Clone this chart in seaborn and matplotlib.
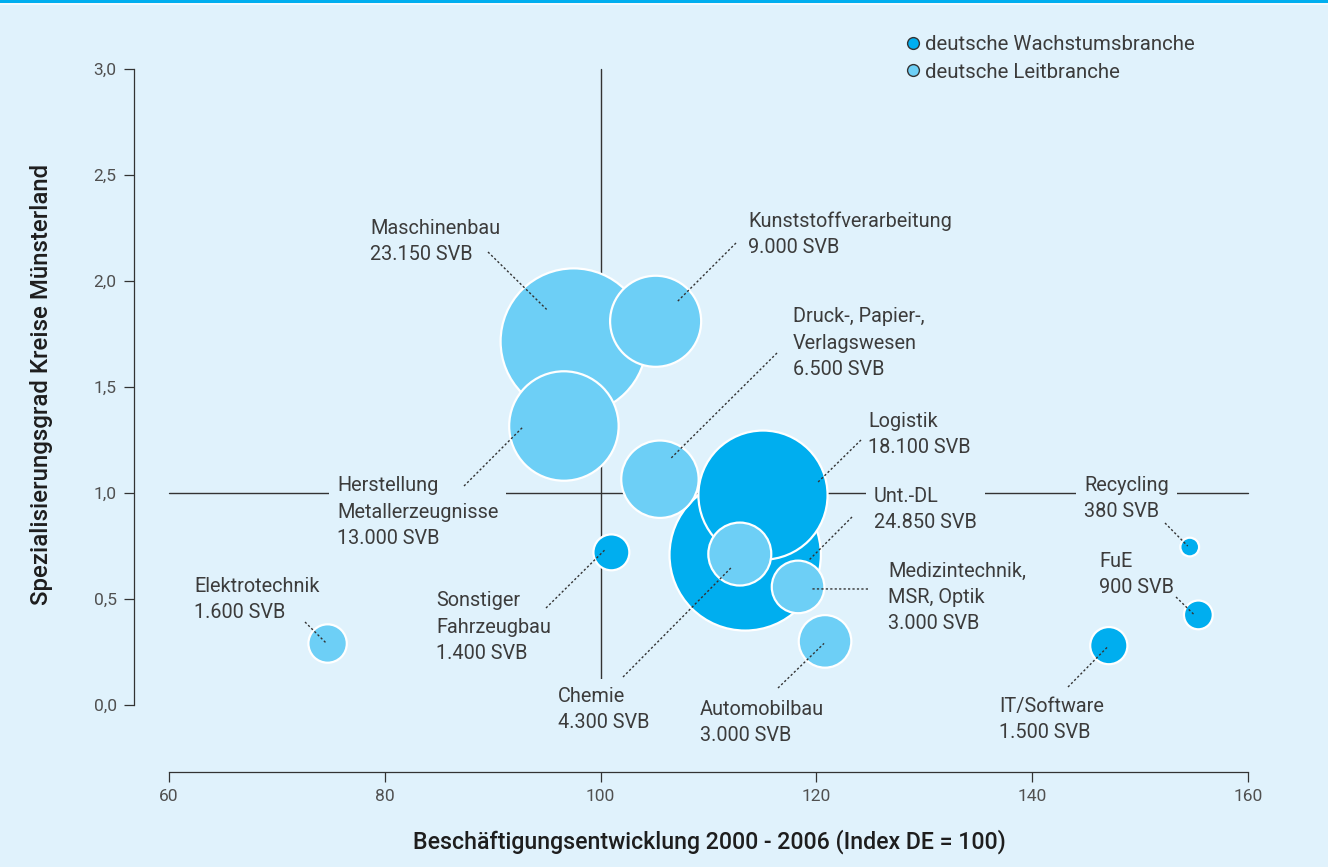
import numpy as np
import pandas as pd
import seaborn as sns
import matplotlib
matplotlib.use("Agg")
import matplotlib.pyplot as plt
from matplotlib.lines import Line2D
from matplotlib.patches import Rectangle

# ---------------- data ----------------
names = ["Maschinenbau", "Kunststoffverarbeitung", "Herstellung Metallerzeugnisse",
         "Unt.-DL", "Logistik", "Druck-, Papier-, Verlagswesen", "Chemie",
         "Medizintechnik, MSR, Optik", "Automobilbau", "Sonstiger Fahrzeugbau",
         "Elektrotechnik", "Recycling", "FuE", "IT/Software"]
beschaeftigung = [97.5, 105.1, 96.6, 113.4, 115.05, 105.5, 112.9,
                  118.3, 120.8, 101.0, 74.7, 154.6, 155.4, 147.1]
spezialisierung = [1.715, 1.81, 1.316, 0.708, 0.99, 1.065, 0.712,
                   0.557, 0.30, 0.72, 0.29, 0.745, 0.425, 0.28]
svb = [23150, 9000, 13000, 24850, 18100, 6500, 4300,
       3000, 3000, 1400, 1600, 380, 900, 1500]
typ = ["Leit", "Leit", "Leit", "Wachstum", "Wachstum", "Leit", "Leit",
       "Leit", "Leit", "Wachstum", "Leit", "Wachstum", "Wachstum", "Wachstum"]
label_texts = ["Maschinenbau\n23.150 SVB", "Kunststoffverarbeitung\n9.000 SVB",
               "Herstellung\nMetallerzeugnisse\n13.000 SVB", "Unt.-DL\n24.850 SVB",
               "Logistik\n18.100 SVB", "Druck-, Papier-,\nVerlagswesen\n6.500 SVB",
               "Chemie\n4.300 SVB", "Medizintechnik,\nMSR, Optik\n3.000 SVB",
               "Automobilbau\n3.000 SVB", "Sonstiger\nFahrzeugbau\n1.400 SVB",
               "Elektrotechnik\n1.600 SVB", "Recycling\n380 SVB", "FuE\n900 SVB",
               "IT/Software\n1.500 SVB"]
x_ticks = [60, 80, 100, 120, 140, 160]
y_ticks = [0.0, 0.5, 1.0, 1.5, 2.0, 2.5, 3.0]
legend_labels = {"Wachstum": "deutsche Wachstumsbranche", "Leit": "deutsche Leitbranche"}

df = pd.DataFrame({"name": names, "x": beschaeftigung, "y": spezialisierung,
                   "svb": svb, "typ": typ})

# ---------------- layout (pixels) ----------------
W, H, DPI = 1328, 867, 100
BG = "#e0f2fc"
DARK = "#00aeef"
LIGHT = "#6dcff6"
TXT = "#3c3c3c"
LINE_STEP = 26  # px between label lines

X0PX, XSCALE = 169, 10.79
Y0PX, YSCALE = 705, 212
def px2x(px): return 60 + (px - X0PX) / XSCALE
def py2y(py): return (Y0PX - py) / YSCALE
def x2px(x): return X0PX + (x - 60) * XSCALE
def y2py(y): return Y0PX - y * YSCALE

# label anchor (left, first baseline) and leader (start px, end offset from bubble centre px)
label_pos = {
    "Maschinenbau": ((370, 234), (488, 252), (-27, -32)),
    "Kunststoffverarbeitung": ((748, 227), (736, 243), (22, -20)),
    "Herstellung Metallerzeugnisse": ((337, 492), (464, 486), (-41, 1)),
    "Unt.-DL": ((874, 502), (852, 517), (64, 5)),
    "Logistik": ((868, 427), (861, 440), (55, -13)),
    "Druck-, Papier-, Verlagswesen": ((793, 323), (777, 353), (11, -21)),
    "Chemie": ((558, 702), (623, 677), (-8, 13)),
    "Medizintechnik, MSR, Optik": ((888, 577), (868, 589), (13, 2)),
    "Automobilbau": ((700, 715), (778, 688), (-1, 2)),
    "Sonstiger Fahrzeugbau": ((436, 607), (546, 608), (-6, -3)),
    "Elektrotechnik": ((194, 592), (305, 622), (-2, -1)),
    "Recycling": ((1084, 491), (1165, 523), (-2, -1)),
    "FuE": ((1099, 567), (1176, 597), (-4, 0)),
    "IT/Software": ((999, 712), (1068, 687), (-1, 1)),
}

sns.set_theme(style="white")
plt.rcParams["font.family"] = ["Roboto", "DejaVu Sans"]

fig = plt.figure(figsize=(W / DPI, H / DPI), dpi=DPI)
fig.patch.set_facecolor(BG)
ax = fig.add_axes([0, 0, 1, 1])
ax.set_facecolor(BG)

# cross lines
ax.plot([100, 100], [0, 3], color="#333333", lw=1.0, zorder=1)
ax.plot([60, 160], [1, 1], color="#333333", lw=1.0, zorder=1)

# bubbles
k = 0.48  # px radius per sqrt(SVB)
scale = (2 * k * 72 / DPI) ** 2
vmax = max(svb)
sns.scatterplot(data=df, x="x", y="y", hue="typ", palette={"Wachstum": DARK, "Leit": LIGHT},
                size="svb", sizes=(0, scale * vmax), size_norm=(0, vmax),
                edgecolor="white", linewidth=1.6, alpha=1, legend=False, ax=ax, zorder=3)

ax.set_xlim(px2x(0), px2x(W))
ax.set_ylim(py2y(H), py2y(0))
ax.set_xlabel("")
ax.set_ylabel("")

# spines
for s in ["top", "right"]:
    ax.spines[s].set_visible(False)
ax.spines["left"].set_position(("data", px2x(134)))
ax.spines["left"].set_bounds(0, 3)
ax.spines["bottom"].set_position(("data", py2y(772)))
ax.spines["bottom"].set_bounds(60, 160)
for s in ["left", "bottom"]:
    ax.spines[s].set_color("#333333")
    ax.spines[s].set_linewidth(0.9)
ax.set_xticks(x_ticks)
ax.set_xticklabels([str(v) for v in x_ticks])
ax.set_yticks(y_ticks)
ax.set_yticklabels([f"{v:.1f}".replace(".", ",") for v in y_ticks])
ax.tick_params(axis="both", direction="out", length=7.5, width=0.9, color="#333333",
               labelsize=12.5, labelcolor="#505050", bottom=True, left=True)
ax.tick_params(axis="y", pad=5)
ax.tick_params(axis="x", pad=4.5)

# labels & leaders
for i, n in enumerate(names):
    (lx, ly), (sx, sy), (ox, oy) = label_pos[n]
    nlines = label_texts[i].count("\n") + 1
    ax.text(px2x(lx), py2y(ly + (nlines - 1) * LINE_STEP), label_texts[i],
            ha="left", va="baseline", fontsize=14.3, color=TXT, linespacing=1.486,
            zorder=2, bbox=dict(boxstyle="square,pad=0.4", facecolor=BG, edgecolor="none"))
    cx, cy = x2px(beschaeftigung[i]), y2py(spezialisierung[i])
    ax.plot([px2x(sx), px2x(cx + ox)], [py2y(sy), py2y(cy + oy)],
            color="#333333", lw=1.0, ls=(0, (1.6, 1.6)), zorder=4)

# legend
handles = [Line2D([], [], marker="o", ls="none", markersize=8.5, markerfacecolor=DARK,
                  markeredgecolor="#333333", markeredgewidth=1.0),
           Line2D([], [], marker="o", ls="none", markersize=8.5, markerfacecolor=LIGHT,
                  markeredgecolor="#333333", markeredgewidth=1.0)]
leg = ax.legend(handles, [legend_labels["Wachstum"], legend_labels["Leit"]],
                loc="upper left", bbox_to_anchor=(906 / W, 1 - 35 / H),
                bbox_transform=fig.transFigure, frameon=False, fontsize=14.7,
                handlelength=0.7, handletextpad=0.25, labelspacing=0.42, borderpad=0,
                borderaxespad=0)
for t in leg.get_texts():
    t.set_color(TXT)

# axis titles
fig.text(709 / W, 1 - 842 / H, "Beschäftigungsentwicklung 2000 - 2006 (Index DE = 100)",
         ha="center", va="center", fontsize=16.7, color="#1e1e1e", fontweight="medium")
fig.text(42 / W, 1 - 384 / H, "Spezialisierungsgrad Kreise Münsterland", rotation=90,
         ha="center", va="center", fontsize=17.3, color="#1e1e1e", fontweight="medium")

# top border
fig.patches.append(Rectangle((0, 1 - 3 / H), 1, 3 / H, transform=fig.transFigure,
                             facecolor=DARK, edgecolor="none", zorder=10))
fig.patches.append(Rectangle((0, 1 - 4.5 / H), 1, 1.5 / H, transform=fig.transFigure,
                             facecolor="#f2f9fd", edgecolor="none", zorder=10))

fig.savefig("out.png", dpi=DPI, facecolor=BG)
